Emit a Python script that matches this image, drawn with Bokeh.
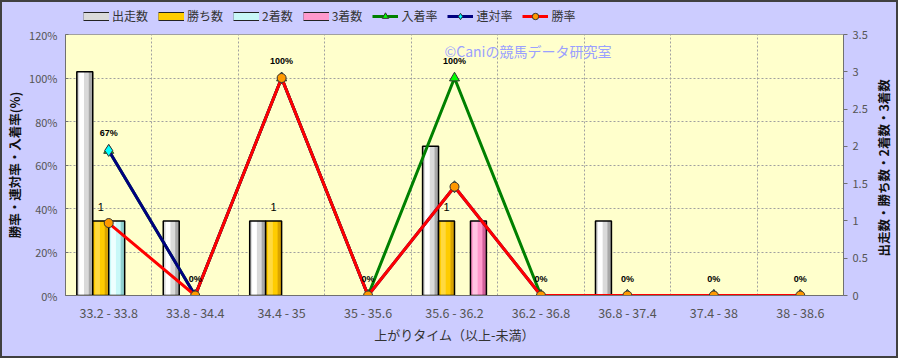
import numpy as np
from bokeh.plotting import figure
from bokeh.layouts import column, row
from bokeh.models import (Range1d, LinearAxis, FixedTicker, NumeralTickFormatter,
                          Legend, LegendItem, Label)
from bokeh.core.properties import value
from bokeh.embed import file_html
from bokeh.resources import INLINE

# ---------------- data ----------------
cats = ["33.2 - 33.8", "33.8 - 34.4", "34.4 - 35", "35 - 35.6", "35.6 - 36.2",
        "36.2 - 36.8", "36.8 - 37.4", "37.4 - 38", "38 - 38.6"]
runs = [3, 1, 1, 0, 2, 0, 1, 0, 0]          # 出走数
wins = [1, 0, 1, 0, 1, 0, 0, 0, 0]          # 勝ち数
seconds = [1, 0, 0, 0, 0, 0, 0, 0, 0]       # 2着数
thirds = [0, 0, 0, 0, 1, 0, 0, 0, 0]        # 3着数
place_rate = [0.667, 0, 1.0, 0, 1.0, 0, 0, 0, 0]     # 入着率
quinella_rate = [0.667, 0, 1.0, 0, 0.5, 0, 0, 0, 0]  # 連対率
win_rate = [0.333, 0, 1.0, 0, 0.5, 0, 0, 0, 0]       # 勝率
pct_ticks = [0, 0.2, 0.4, 0.6, 0.8, 1.0, 1.2]
cnt_ticks = [0, 0.5, 1, 1.5, 2, 2.5, 3, 3.5]
right_title = "出走数・勝ち数・2着数・3着数"

FONT = "Noto Sans CJK JP"
BG = "#CCCCFF"
x = np.arange(len(cats)) + 0.5

# ---------------- main figure ----------------
PW, PH = 868, 332
p = figure(width=PW, height=PH, x_range=Range1d(0, len(cats)), y_range=Range1d(0, 1.2),
           output_backend="svg", toolbar_location=None, title=None,
           min_border_left=63, min_border_right=26, min_border_top=10, min_border_bottom=61,
           background_fill_color="#FFFFCC", border_fill_color=BG)
p.outline_line_color = "#A0A0A0"
p.extra_y_ranges = {"cnt": Range1d(0, 3.5)}

p.xgrid.ticker = FixedTicker(ticks=list(range(1, len(cats))))
p.ygrid.ticker = FixedTicker(ticks=pct_ticks)
for g in (p.xgrid, p.ygrid):
    g.grid_line_color = "#A0A0A0"
    g.grid_line_dash = "2 2"
    g.grid_line_width = 1

p.xaxis.ticker = FixedTicker(ticks=list(x))
p.xaxis.major_label_overrides = {float(xi): c for xi, c in zip(x, cats)}
p.xaxis.axis_label = "上がりタイム（以上-未満）"
p.xaxis.major_tick_out = 0
p.xaxis.major_tick_in = 0
p.xaxis.minor_tick_out = 0
p.xaxis.major_label_standoff = 7
p.xaxis.axis_label_standoff = 0

p.yaxis.ticker = FixedTicker(ticks=pct_ticks)
p.yaxis.formatter = NumeralTickFormatter(format="0%")
p.yaxis.axis_label = "勝率・連対率・入着率(%)"
p.yaxis.major_tick_in = 3
p.yaxis.major_tick_out = 0
p.yaxis.minor_tick_out = 0
p.yaxis.minor_tick_in = 0
p.yaxis.major_label_standoff = 8

ry = LinearAxis(y_range_name="cnt", ticker=FixedTicker(ticks=cnt_ticks),
                formatter=NumeralTickFormatter(format="0.[0]"))
ry.major_tick_out = 4
ry.major_tick_in = 0
ry.minor_tick_out = 0
ry.major_label_standoff = 5
p.add_layout(ry, "right")

for ax in (p.xaxis[0], p.yaxis[0], ry):
    ax.axis_line_color = "#707070"
    ax.major_tick_line_color = "#707070"
    ax.major_label_text_font = FONT
    ax.major_label_text_font_size = "11px"
    ax.major_label_text_color = "#555555"
    ax.axis_label_text_font = FONT
    ax.axis_label_text_font_size = "13px"
    ax.axis_label_text_font_style = "bold"
    ax.axis_label_text_color = "#111111"
p.xaxis.major_label_text_font_size = "12.5px"
p.xaxis.axis_label_text_font_style = "normal"
p.xaxis.axis_label_text_color = "#333333"
p.yaxis.axis_label_text_font_size = "12.5px"
p.yaxis.axis_label_standoff = 2

# ---------------- right title strip ----------------
RW = 898 - 4 - PW
rf = figure(width=RW, height=PH, x_range=Range1d(0, RW), y_range=Range1d(0, PH),
            output_backend="svg", toolbar_location=None, title=None,
            x_axis_type=None, y_axis_type=None,
            min_border_left=0, min_border_right=0, min_border_top=0, min_border_bottom=0,
            background_fill_color=BG, border_fill_color=BG)
rf.outline_line_color = None
rf.grid.visible = False
rf.add_layout(Label(x=13, y=162.5, text=right_title, angle=np.pi / 2,
                    text_align="center", text_baseline="middle", text_font=FONT,
                    text_font_size="12.5px", text_font_style="bold", text_color="#111111"))

# ---------------- legend strip ----------------
lf = figure(width=898 - 4, height=22, x_range=Range1d(0, 1), y_range=Range1d(0, 1),
            output_backend="svg", toolbar_location=None, title=None,
            x_axis_type=None, y_axis_type=None,
            min_border_left=63, min_border_right=0, min_border_top=0, min_border_bottom=0,
            background_fill_color=BG, border_fill_color=BG)
lf.outline_line_color = None
lf.grid.visible = False

# ---------------- bars ----------------
w = 0.1846
offs = [-1.5 * w, -0.5 * w, 0.5 * w, 1.5 * w]
bar_series = [
    ("出走数", runs, ("#A8A8A8", "#DADADA", "#FFFFFF")),
    ("勝ち数", wins, ("#D9A400", "#FFCC00", "#FFD940")),
    ("2着数", seconds, ("#90D0D0", "#C8F8F8", "#EEFFFF")),
    ("3着数", thirds, ("#D0609A", "#FF99CC", "#FFC4E2")),
]
legend_items = []
for (name, vals, (dark, mid, light)), off in zip(bar_series, offs):
    xs = x + off
    tops = [v if v > 0 else np.nan for v in vals]
    p.vbar(x=xs, top=tops, width=w, fill_color=dark, line_color=None, y_range_name="cnt")
    p.vbar(x=xs - 0.1 * w, top=tops, width=0.7 * w, fill_color=mid, line_color=None, y_range_name="cnt")
    p.vbar(x=xs - 0.2 * w, top=tops, width=0.3 * w, fill_color=light, line_color=None, y_range_name="cnt")
    p.vbar(x=xs, top=tops, width=w, fill_color=None, line_color="black", line_width=1.5, y_range_name="cnt")
    r1 = lf.line([-10], [-10], line_width=9, line_color="#222222")
    r2 = lf.line([-10], [-10], line_width=7, line_color=mid)
    legend_items.append(LegendItem(label=name, renderers=[r1, r2]))

# ---------------- lines ----------------
line_series = [
    ("入着率", place_rate, "#008000", "triangle", 10, "#00FF00"),
    ("連対率", quinella_rate, "#000080", "diamond", 12, "#00FFFF"),
    ("勝率", win_rate, "#FF0000", "circle", 9, "#FF9900"),
]
for name, vals, col, mk, sz, fc in line_series:
    p.line(x, vals, line_color=col, line_width=3)
    p.scatter(x, vals, marker=mk, size=sz, fill_color=fc, line_color="#333333", line_width=1)
    rl = lf.line([-10], [-10], line_color=col, line_width=3)
    rs = lf.scatter([-10], [-10], marker=mk, size=sz, fill_color=fc, line_color="#333333", line_width=1)
    legend_items.append(LegendItem(label=name, renderers=[rl, rs]))

# ---------------- data labels ----------------
place_labels = [f"{round(v * 100)}%" for v in place_rate]
p.text(x, place_rate, text=place_labels, y_offset=-17, text_align="center",
       text_baseline="middle", text_font=value("Liberation Sans"), text_font_size="9px",
       text_font_style="bold", text_color="black")
wx = [xi + offs[1] for xi, v in zip(x, wins) if v > 0]
wy = [v for v in wins if v > 0]
p.text(wx, wy, text=[str(v) for v in wy], y_offset=-14, text_align="center",
       text_baseline="middle", text_font=value("Liberation Sans"), text_font_size="11px",
       text_color="black", y_range_name="cnt")

p.add_layout(Label(x=4.385, y=1.122, text="©Caniの競馬データ研究室", text_font=FONT,
                   text_font_size="14px", text_color="#9AA0FF", text_baseline="middle"))

legend = Legend(items=legend_items, orientation="horizontal", location=(18, 0),
                glyph_width=26, glyph_height=16, label_height=16, label_standoff=3,
                spacing=10, padding=0, margin=0, background_fill_alpha=0,
                border_line_color=None, label_text_font=FONT, label_text_font_size="12px",
                label_text_color="#333333")
lf.add_layout(legend, "center")

layout = column(lf, row(p, rf, spacing=0), spacing=0,
                styles={"border": "2px solid #404040", "background-color": BG})
open("out.html", "w").write(file_html(layout, INLINE))
